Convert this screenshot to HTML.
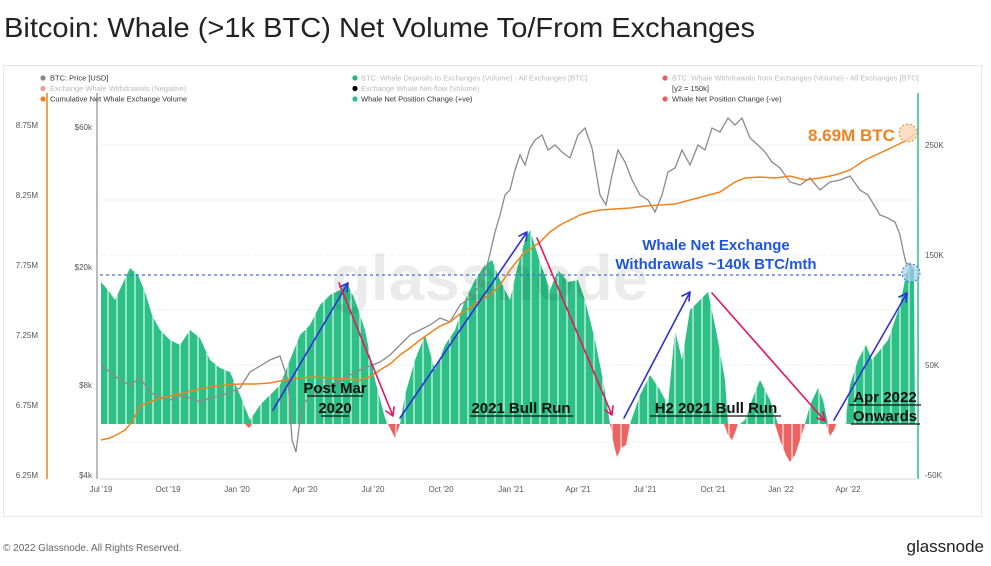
<!DOCTYPE html>
<html><head><meta charset="utf-8"><style>
html,body{margin:0;padding:0;background:#fff;}
body{width:991px;height:561px;overflow:hidden;font-family:"Liberation Sans",sans-serif;}
</style></head><body>
<svg width="991" height="561" viewBox="0 0 991 561" xmlns="http://www.w3.org/2000/svg" font-family="Liberation Sans, sans-serif">
<text x="4" y="37" font-size="28" fill="#222" textLength="751" lengthAdjust="spacingAndGlyphs">Bitcoin: Whale (&gt;1k BTC) Net Volume To/From Exchanges</text>
<rect x="3.5" y="65.5" width="978" height="451" fill="none" stroke="#e6e6e6"/>
<g font-size="7.5">
<circle cx="43" cy="78" r="2.6" fill="#888"/><text x="50" y="80.5" fill="#333">BTC: Price [USD]</text>
<circle cx="43" cy="88.5" r="2.6" fill="#f19a9a"/><text x="50" y="91" fill="#bbb">Exchange Whale Withdrawals (Negative)</text>
<circle cx="43" cy="99" r="2.6" fill="#f0821e"/><text x="50" y="101.5" fill="#333">Cumulative Net Whale Exchange Volume</text>
<circle cx="355" cy="78" r="2.6" fill="#1fb57c"/><text x="361" y="80.5" fill="#bbb">BTC: Whale Deposits to Exchanges (Volume) - All Exchanges [BTC]</text>
<circle cx="355" cy="88.5" r="2.6" fill="#000"/><text x="361" y="91" fill="#bbb">Exchange Whale Net-flow (Volume)</text>
<circle cx="355" cy="99" r="2.6" fill="#2dbf86"/><text x="361" y="101.5" fill="#333">Whale Net Position Change (+ve)</text>
<circle cx="665" cy="78" r="2.6" fill="#e95f5f"/><text x="672" y="80.5" fill="#bbb">BTC: Whale Withdrawals from Exchanges (Volume) - All Exchanges [BTC]</text>
<text x="672" y="91" fill="#333">[y2 = 150k]</text>
<circle cx="665" cy="99" r="2.6" fill="#e95f5f"/><text x="672" y="101.5" fill="#333">Whale Net Position Change (-ve)</text>
</g>
<line x1="47" y1="93" x2="47" y2="479" stroke="#f0821e" stroke-width="1.5"/>
<line x1="97" y1="93" x2="97" y2="479" stroke="#777" stroke-width="1"/>
<line x1="918" y1="93" x2="918" y2="479" stroke="#2dbf86" stroke-width="1.5"/>
<line x1="100" y1="479" x2="915" y2="479" stroke="#e3e3e3" stroke-width="1.5"/>
<g stroke="#f2f2f2"><line x1="100" y1="145" x2="915" y2="145"/><line x1="100" y1="200" x2="915" y2="200"/><line x1="100" y1="255" x2="915" y2="255"/><line x1="100" y1="310" x2="915" y2="310"/><line x1="100" y1="365" x2="915" y2="365"/><line x1="100" y1="442" x2="915" y2="442"/></g>
<g font-size="8" fill="#555" text-anchor="end">
<text x="38" y="128">8.75M</text><text x="38" y="198">8.25M</text><text x="38" y="268">7.75M</text><text x="38" y="338">7.25M</text><text x="38" y="408">6.75M</text><text x="38" y="478">6.25M</text>
<text x="92" y="130">$60k</text><text x="92" y="270">$20k</text><text x="92" y="388">$8k</text><text x="92" y="478">$4k</text>
</g>
<g font-size="8" fill="#555"><text x="925" y="148">250K</text><text x="925" y="258">150K</text><text x="925" y="368">50K</text><text x="925" y="478">-50K</text></g>
<g font-size="8" fill="#555" text-anchor="middle">
<text x="101" y="492">Jul '19</text><text x="168" y="492">Oct '19</text><text x="237" y="492">Jan '20</text><text x="305" y="492">Apr '20</text><text x="373" y="492">Jul '20</text><text x="441" y="492">Oct '20</text><text x="511" y="492">Jan '21</text><text x="578" y="492">Apr '21</text><text x="645" y="492">Jul '21</text><text x="713" y="492">Oct '21</text><text x="781" y="492">Jan '22</text><text x="848" y="492">Apr '22</text>
</g>
<path fill="#2cc087" d="M101,424 L101,282 L108,290 L115,300 L122,285 L130,268 L138,275 L145,292 L152,315 L160,330 L170,340 L180,345 L190,330 L200,338 L210,360 L220,368 L230,372 L240,395 L250,420 L260,405 L270,395 L280,385 L290,360 L300,335 L310,325 L320,305 L330,295 L340,290 L347,283 L355,300 L365,330 L375,380 L385,418 L388,424 L400,424 L405,395 L415,360 L425,335 L435,370 L445,345 L455,330 L465,300 L475,280 L485,265 L492,260 L500,280 L510,300 L518,265 L525,240 L530,230 L540,262 L550,290 L558,270 L568,282 L578,280 L585,300 L595,340 L603,380 L610,424 L630,424 L640,395 L650,375 L660,390 L668,405 L675,330 L682,360 L690,310 L700,300 L708,292 L716,330 L725,380 L728,424 L740,424 L745,420 L752,400 L760,380 L770,400 L778,424 L805,424 L810,405 L818,388 L823,400 L828,424 L845,424 L850,385 L858,360 L866,345 L872,360 L880,350 L888,340 L895,320 L900,305 L905,280 L910,262 L914,270 L915,424 Z"/>
<g fill="#ec6461">
<path d="M388,424 L392,432 L395,438 L398,430 L400,424 Z"/>
<path d="M245,424 L249,428 L253,424 Z"/>
<path d="M610,424 L614,445 L617,457 L621,448 L626,445 L630,424 Z"/>
<path d="M724,424 L728,435 L732,440 L736,430 L738,424 Z"/>
<path d="M775,424 L780,440 L786,455 L790,462 L795,455 L800,440 L805,424 Z"/>
<path d="M826,424 L830,436 L834,430 L836,424 Z"/>
</g>
<g stroke="#fff" stroke-width="1"><path id="gaps" d="M0,0"/></g>
<script>
(function(){var d="";for(var x=108;x<915;x+=9){d+="M"+x+",220 L"+x+",465 ";}document.getElementById("gaps").setAttribute("d",d);})();
</script>
<text x="490" y="300" font-size="64" font-weight="bold" fill="#000" fill-opacity="0.08" text-anchor="middle">glassnode</text>
<polyline fill="none" stroke="#8a8a8a" stroke-width="1.3" points="101,365 110,372 120,380 130,385 140,378 150,392 160,398 170,400 180,396 190,398 200,402 210,398 220,396 230,392 240,388 250,372 260,366 270,360 280,356 288,380 292,440 296,452 300,420 305,402 312,395 320,390 330,385 340,382 350,375 360,370 370,366 380,362 390,355 400,345 410,335 420,330 430,325 440,318 450,322 460,305 470,298 480,285 488,262 495,232 500,215 505,195 510,190 515,170 520,155 525,165 530,148 535,140 542,135 548,150 555,145 562,152 570,158 578,135 585,128 592,148 600,195 606,205 612,175 618,150 625,162 632,180 640,195 648,200 655,212 662,195 668,172 675,168 682,150 690,165 698,145 705,150 712,128 720,132 728,118 735,125 742,118 750,138 758,145 765,152 772,162 780,168 790,182 800,185 810,178 820,190 830,182 840,180 850,176 860,190 868,195 874,205 880,215 888,218 895,222 900,235 903,250 906,263 910,265 914,270"/>
<polyline fill="none" stroke="#f0821e" stroke-width="1.5" points="101,440 110,438 118,434 125,430 132,422 140,406 150,402 160,398 170,396 180,394 195,390 210,387 225,385 240,384 255,384 270,383 285,380 300,378 315,377 330,378 345,379 360,380 370,377 380,370 390,364 400,355 410,348 420,340 430,333 440,326 450,322 460,314 470,308 480,300 490,295 500,285 510,270 518,260 525,252 532,248 540,242 550,232 560,225 570,220 580,215 590,212 600,210 615,209 630,208 645,206 660,205 675,204 690,200 705,196 720,192 735,182 745,178 760,177 775,178 790,176 805,180 820,178 835,175 850,170 865,160 880,153 893,147 903,142 910,138 914,134"/>
<line x1="100" y1="275" x2="915" y2="275" stroke="#3f6fd4" stroke-width="1.2" stroke-dasharray="3,3"/>
<circle cx="911" cy="273" r="9" fill="#a8cdf0" fill-opacity="0.7" stroke="#3f6fd4" stroke-dasharray="2,2"/>
<circle cx="908" cy="133" r="9" fill="#f9d6b4" fill-opacity="0.8" stroke="#f0821e" stroke-dasharray="2,2"/>
<g fill="none" stroke-width="1.6" stroke-linecap="round">
<g stroke="#2f2fd8">
<path d="M273,410 L348,283 M348,283 l-1,9 M348,283 l-8,4"/>
<path d="M400,418 L527,232 M527,232 l-1,9 M527,232 l-8,4"/>
<path d="M624,418 L690,292 M690,292 l-1,9 M690,292 l-8,4"/>
<path d="M834,420 L907,293 M907,293 l-1,9 M907,293 l-8,4"/>
</g>
<g stroke="#e8155f">
<path d="M339,283 L393,416 M393,416 l1,-9 M393,416 l-7,-5"/>
<path d="M537,238 L612,415 M612,415 l1,-9 M612,415 l-7,-5"/>
<path d="M712,293 L825,421 M825,421 l-2,-9 M825,421 l-8,-3"/>
</g>
</g>
<g font-size="15" font-weight="bold" fill="#111" text-anchor="middle">
<text x="335" y="393">Post Mar</text><text x="335" y="413">2020</text>
<text x="521" y="413">2021 Bull Run</text>
<text x="716" y="413">H2 2021 Bull Run</text>
<text x="885" y="402">Apr 2022</text><text x="885" y="421">Onwards</text>
</g>
<g stroke="#111" stroke-width="1.2">
<line x1="307" y1="396" x2="363" y2="396"/><line x1="321" y1="416" x2="349" y2="416"/>
<line x1="470" y1="416" x2="573" y2="416"/>
<line x1="650" y1="416" x2="781" y2="416"/>
<line x1="849" y1="405" x2="921" y2="405"/><line x1="851" y1="424" x2="920" y2="424"/>
</g>
<g font-size="15" font-weight="bold" fill="#1f55e0" text-anchor="middle">
<text x="716" y="250">Whale Net Exchange</text><text x="716" y="269">Withdrawals ~140k BTC/mth</text>
</g>
<text x="808" y="141" font-size="17" font-weight="bold" fill="#f0821e">8.69M BTC</text>
<text x="3" y="551" font-size="10" fill="#666">© 2022 Glassnode. All Rights Reserved.</text>
<text x="984" y="552" font-size="17" fill="#222" text-anchor="end">glassnode</text>
</svg>
</body></html>
